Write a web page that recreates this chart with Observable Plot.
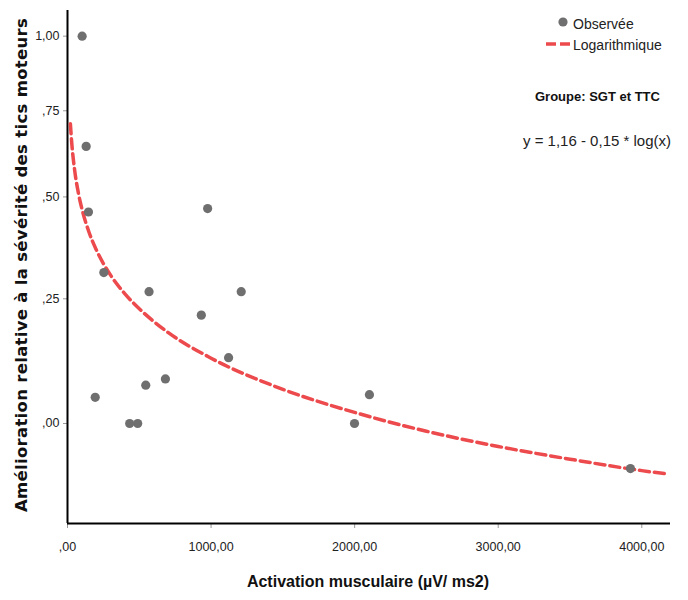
<!DOCTYPE html>
<html><head><meta charset="utf-8">
<script src="https://cdn.jsdelivr.net/npm/d3@7"></script>
<script src="https://cdn.jsdelivr.net/npm/@observablehq/plot@0.6"></script>
<style>
body{margin:0;background:#fff;font-family:"Liberation Sans",Arial,sans-serif;}
#wrap{position:relative;width:688px;height:600px;}
.ov{position:absolute;white-space:nowrap;color:#111;line-height:1;}
</style></head><body><div id="wrap"></div>
<script>
// Observed points (Activation musculaire µV/ms2, Amélioration relative)
const obsX = [102, 130, 146, 253, 568, 1210, 932, 1122, 682, 545, 193, 433, 489, 976, 2103, 1999, 3921];
const obsY = [1.00, 0.642, 0.460, 0.310, 0.266, 0.266, 0.214, 0.125, 0.083, 0.071, 0.048, 0.0, 0.0, 0.469, 0.053, 0.0, -0.084];
// Logarithmic fit curve
const fitX = [20, 30, 50, 75, 100, 150, 200, 300, 400, 500, 700, 1000, 1500, 2000, 2500, 3000, 3500, 4000, 4190];
const fitY = [0.71, 0.65, 0.573, 0.512, 0.469, 0.408, 0.365, 0.304, 0.261, 0.228, 0.177, 0.124, 0.063, 0.02, -0.014, -0.042, -0.066, -0.088, -0.095];
// Ticks
const xTicks = [0, 1000, 2000, 3000, 4000];
const xTickLabels = [",00", "1000,00", "2000,00", "3000,00", "4000,00"];
const yTicks = [0, 0.25, 0.5, 0.75, 1];
const yTickLabels = [",00", ",25", ",50", ",75", "1,00"];
const xDomain = [0, 4200];
const yDomain = [-0.196, 1.094];

const obs = obsX.map((x, i) => ({x, y: obsY[i]}));
const fit = fitX.map((x, i) => ({x, y: fitY[i]}));
const xLab = new Map(xTicks.map((t, i) => [t, xTickLabels[i]]));
const yLab = new Map(yTicks.map((t, i) => [t, yTickLabels[i]]));

const chart = Plot.plot({
  width: 688, height: 600,
  marginLeft: 67, marginRight: 18, marginTop: 10, marginBottom: 77,
  style: {fontFamily: "'Liberation Sans', Arial, sans-serif", fontSize: "12.5px", color: "#222", background: "white"},
  x: {domain: xDomain},
  y: {type: "symlog", constant: 1, domain: yDomain},
  marks: [
    Plot.axisX({ticks: xTicks, tickFormat: d => xLab.get(d), tickSize: 5, tickPadding: 14, label: null, stroke: "#999", fill: "#222"}),
    Plot.axisY({ticks: yTicks, tickFormat: d => yLab.get(d), tickSize: 4, tickPadding: 4, label: null, stroke: "#999", fill: "#222"}),
    Plot.ruleX([xDomain[0]], {stroke: "#000", strokeWidth: 2}),
    Plot.ruleY([yDomain[0]], {stroke: "#000", strokeWidth: 2}),
    Plot.line(fit, {x: "x", y: "y", curve: "monotone-x", stroke: "#ec4a4c", strokeWidth: 3.5, strokeDasharray: "10,5"}),
    Plot.dot(obs, {x: "x", y: "y", r: 4.6, fill: "#6f6f6f", stroke: "none"})
  ]
});
const wrap = document.getElementById("wrap");
wrap.appendChild(chart);

function addOv(html, style) {
  const d = document.createElement("div");
  d.className = "ov";
  d.innerHTML = html;
  Object.assign(d.style, style);
  wrap.appendChild(d);
  return d;
}
// Axis titles
addOv("Activation musculaire (µV/ ms2)", {left: "368px", top: "582px", transform: "translate(-50%,-50%)", fontWeight: "bold", fontSize: "16px"});
addOv("Amélioration relative à la sévérité des tics moteurs", {left: "22px", top: "265px", transform: "translate(-50%,-50%) rotate(-90deg)", fontWeight: "bold", fontSize: "16.5px", fontFamily: "'DejaVu Sans', Verdana, sans-serif", letterSpacing: "0.3px"});
// Legend
addOv('<svg width="12" height="12" style="position:absolute;left:-16px;top:-1px"><circle cx="6" cy="6" r="4.6" fill="#6f6f6f"/></svg>Observée', {left: "573px", top: "17px", fontSize: "14px", color: "#222"});
addOv('<svg width="26" height="6" style="position:absolute;left:-28px;top:3px"><line x1="1" y1="3" x2="25" y2="3" stroke="#ec4a4c" stroke-width="3.5" stroke-dasharray="10,4"/></svg>Logarithmique', {left: "573px", top: "38px", fontSize: "14px", color: "#222"});
addOv("Groupe: SGT et TTC", {left: "535px", top: "90px", fontSize: "13px", fontWeight: "bold"});
addOv("y = 1,16 - 0,15 * log(x)", {left: "523px", top: "133px", fontSize: "15px", color: "#222"});
</script></body></html>
